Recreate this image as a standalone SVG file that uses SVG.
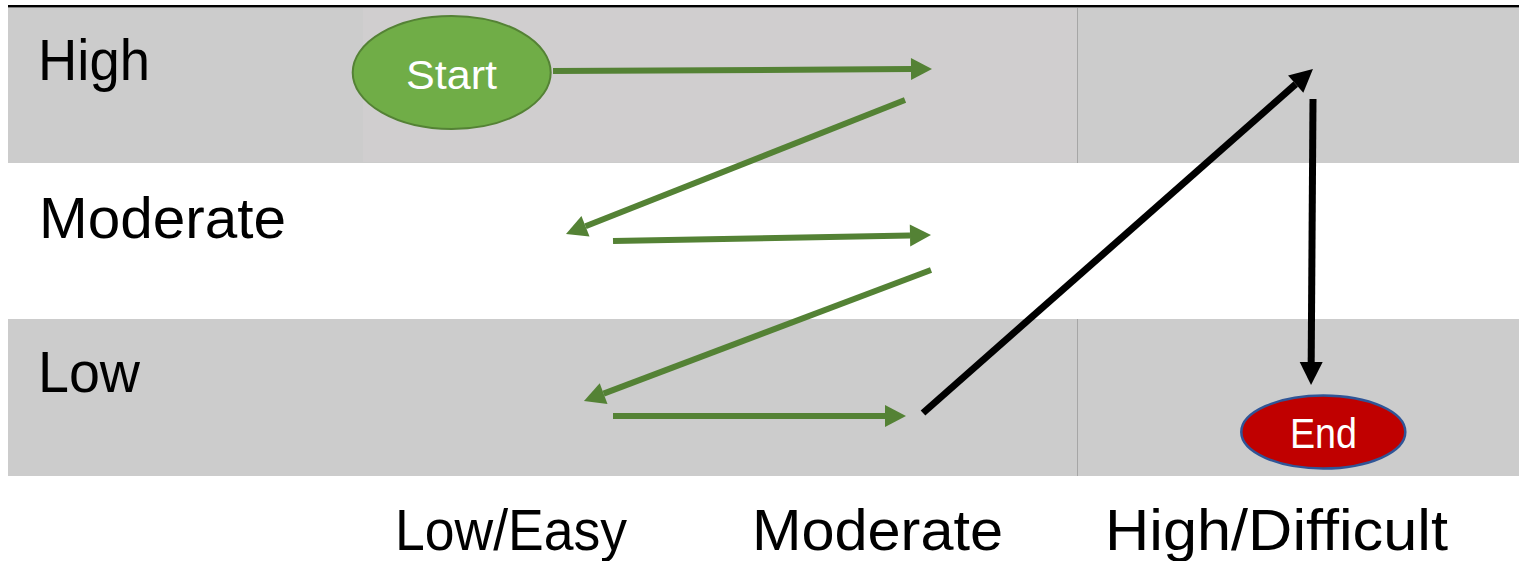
<svg xmlns="http://www.w3.org/2000/svg" width="1519" height="561" viewBox="0 0 1519 561">
<style>
.lbl{font-family:"Liberation Sans",Arial,sans-serif;font-size:58px;fill:#000}
.node-t{font-family:"Liberation Sans",Arial,sans-serif;fill:#fff}
.g{stroke:#548235;stroke-width:6;fill:none}
.k{stroke:#000;stroke-width:7;fill:none}
.sep{stroke:#a6a6a6;stroke-width:1}
</style>
<defs>
<marker id="hg" markerUnits="userSpaceOnUse" markerWidth="21" markerHeight="22" refX="0" refY="11" orient="auto" overflow="visible">
<path d="M0,0 L21,11 L0,22 z" fill="#548235"/>
</marker>
<marker id="hk" markerUnits="userSpaceOnUse" markerWidth="23" markerHeight="23" refX="0" refY="11.5" orient="auto" overflow="visible">
<path d="M0,0 L23,11.5 L0,23 z" fill="#000"/>
</marker>
</defs>
<rect width="1519" height="561" fill="#fff"/>
<g id="bands">
<rect x="8" y="8" width="1511" height="155" fill="#cccccc"/>
<rect x="363" y="8" width="714" height="154" fill="#d0cecf"/>
<rect x="8" y="319" width="1511" height="157" fill="#cccccc"/>
<line class="sep" x1="1077.5" y1="8" x2="1077.5" y2="163"/>
<line class="sep" x1="1077.5" y1="319" x2="1077.5" y2="476"/>
<line x1="8" y1="6.3" x2="1519" y2="6.3" stroke="#000" stroke-width="2.5"/>
</g>
<g id="labels">
<text class="lbl" x="38" y="80" textLength="112" lengthAdjust="spacingAndGlyphs">High</text>
<text class="lbl" x="39" y="238" textLength="247" lengthAdjust="spacingAndGlyphs">Moderate</text>
<text class="lbl" x="38" y="392" textLength="102" lengthAdjust="spacingAndGlyphs">Low</text>
<text class="lbl" x="395" y="550" textLength="232" lengthAdjust="spacingAndGlyphs">Low/Easy</text>
<text class="lbl" x="752" y="550" textLength="251" lengthAdjust="spacingAndGlyphs">Moderate</text>
<text class="lbl" x="1105" y="550" textLength="343" lengthAdjust="spacingAndGlyphs">High/Difficult</text>
</g>
<g id="connectors">
<line class="g" x1="553" y1="71" x2="911" y2="69.1" marker-end="url(#hg)"/>
<line class="g" x1="905" y1="100" x2="585.5" y2="226.3" marker-end="url(#hg)"/>
<line class="g" x1="613" y1="241" x2="910" y2="235.4" marker-end="url(#hg)"/>
<line class="g" x1="931" y1="270" x2="603.6" y2="393.6" marker-end="url(#hg)"/>
<line class="g" x1="613" y1="416" x2="885" y2="416" marker-end="url(#hg)"/>
<line class="k" x1="923" y1="413" x2="1295.7" y2="84.2" marker-end="url(#hk)"/>
<line class="k" x1="1313" y1="99" x2="1311.2" y2="362" marker-end="url(#hk)"/>
</g>
<g id="start">
<ellipse cx="451.7" cy="72.5" rx="99" ry="56.5" fill="#70ad47" stroke="#548235" stroke-width="2"/>
<text class="node-t" x="451.5" y="89" font-size="40" text-anchor="middle" textLength="91" lengthAdjust="spacingAndGlyphs">Start</text>
</g>
<g id="end">
<ellipse cx="1323.3" cy="432" rx="82" ry="36.5" fill="#c00000" stroke="#2f5597" stroke-width="2.5"/>
<text class="node-t" x="1323.5" y="448" font-size="42" text-anchor="middle" textLength="67" lengthAdjust="spacingAndGlyphs">End</text>
</g>
</svg>
